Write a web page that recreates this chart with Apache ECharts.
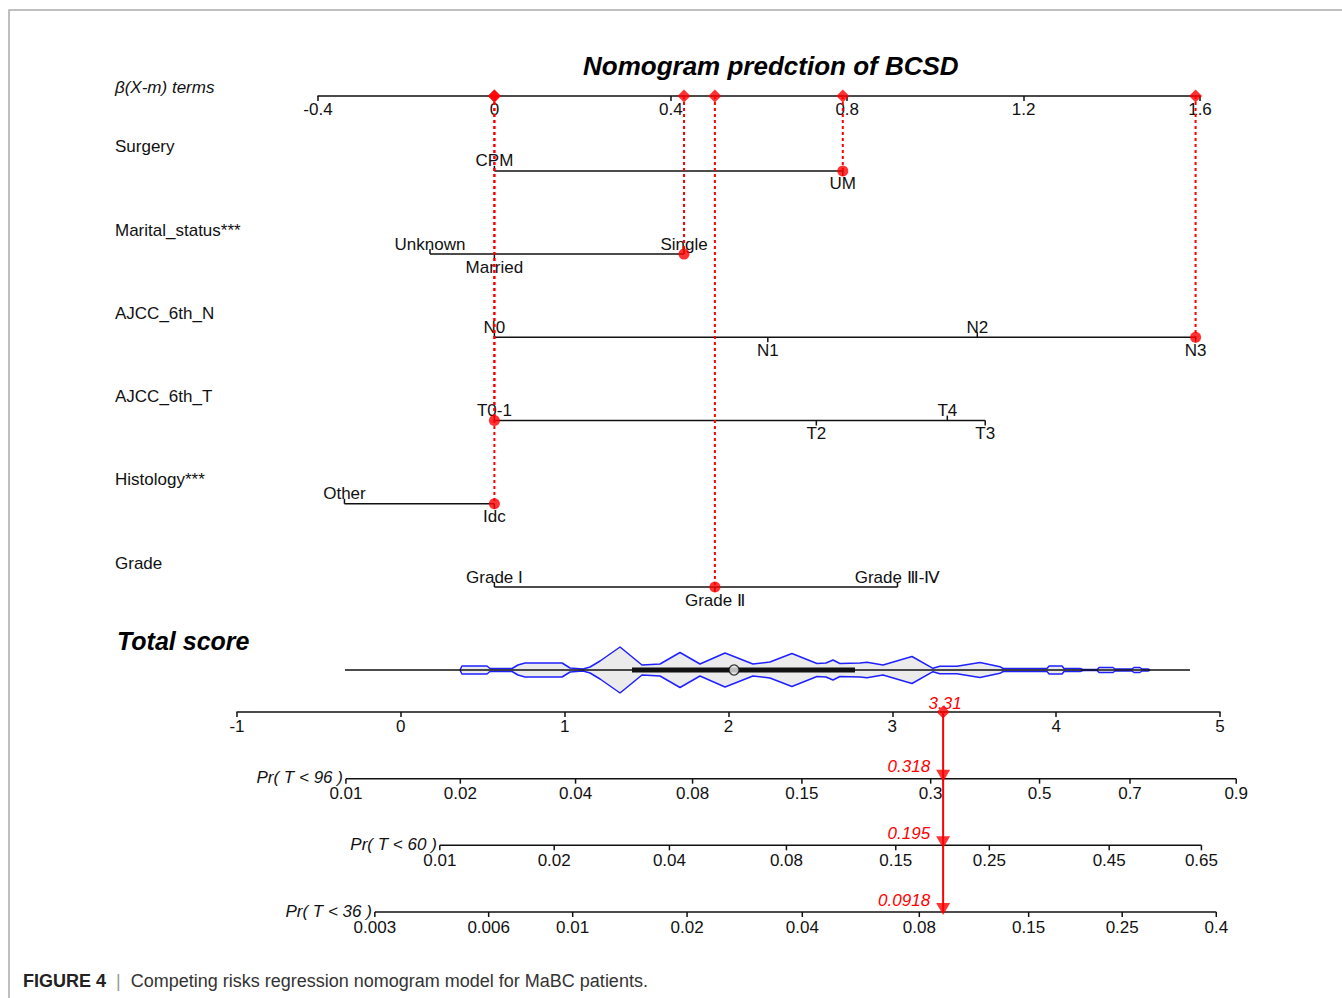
<!DOCTYPE html>
<html><head><meta charset="utf-8">
<script src="https://cdn.jsdelivr.net/npm/echarts@6/dist/echarts.min.js"></script>
<style>html,body{margin:0;padding:0;background:#fff}#c{width:1342px;height:998px}</style>
</head><body><div id="c"></div>
<script>
// ---------------- data ----------------
const chartTitle = 'Nomogram predction of BCSD';
const betaAxisName = 'β(X-m) terms';
const variables = ['Surgery', 'Marital_status***', 'AJCC_6th_N', 'AJCC_6th_T', 'Histology***', 'Grade'];
const levelNames = [
  ['CPM', 'UM'],
  ['Unknown', 'Married', 'Single'],
  ['N0', 'N1', 'N2', 'N3'],
  ['T0-1', 'T2', 'T4', 'T3'],
  ['Other', 'Idc'],
  ['Grade I', 'Grade Ⅱ', 'Grade Ⅲ-Ⅳ']
];
const levelBetas = [
  [0, 0.79],
  [-0.146, 0, 0.43],
  [0, 0.62, 1.095, 1.59],
  [0, 0.73, 1.027, 1.113],
  [-0.34, 0],
  [0, 0.50, 0.914]
];
const selectedLevels = ['UM', 'Single', 'N3', 'T0-1', 'Idc', 'Grade Ⅱ'];
const betaMin = -0.4, betaMax = 1.6, betaStep = 0.4;
const scoreMin = -1, scoreMax = 5, scoreStep = 1;
const totalScore = 3.31;
const probAxisNames = ['Pr( T < 96 )', 'Pr( T < 60 )', 'Pr( T < 36 )'];
const probTicks96 = [0.01, 0.02, 0.04, 0.08, 0.15, 0.3, 0.5, 0.7, 0.9];
const probTicks60 = [0.01, 0.02, 0.04, 0.08, 0.15, 0.25, 0.45, 0.65];
const probTicks36 = [0.003, 0.006, 0.01, 0.02, 0.04, 0.08, 0.15, 0.25, 0.4];
const probOffsets = [-4.265, -4.838, -5.649];   // cloglog(p) = score + offset
const predictedProbs = [0.318, 0.195, 0.0918];
// distribution of total score (violin outline half-width)
const violinScore = [0.361, 0.373, 0.526, 0.544, 0.679, 0.715, 0.758, 0.984, 1.033, 1.112, 1.155, 1.216, 1.338, 1.472, 1.582, 1.704, 1.826, 1.979, 2.149, 2.253, 2.387, 2.540, 2.595, 2.638, 2.680, 2.803, 2.845, 2.943, 3.120, 3.248, 3.290, 3.394, 3.535, 3.657, 3.676, 3.944, 3.957, 4.036, 4.048, 4.146, 4.164, 4.250, 4.262, 4.347, 4.359, 4.463, 4.475, 4.511, 4.524, 4.560, 4.573];
const violinHalfWidth = [0, 4, 4, 1.5, 1.5, 5, 7, 7, 2, 1, 3, 9, 23, 5, 6, 17.5, 6, 17, 6, 8, 16.5, 6.5, 7, 10, 6.5, 7, 7.7, 5, 13.5, 1.7, 3.7, 3.7, 7.5, 3.3, 1.5, 1.5, 4, 4, 1.5, 1.5, 0.5, 0.5, 2.5, 2.5, 1, 1, 2.5, 2.5, 1, 1, 0];
const whiskerRange = [-0.341, 4.817];
const boxRange = [1.411, 2.772];
const medianScore = 2.034;
const caption = ['FIGURE 4', 'Competing risks regression nomogram model for MaBC patients.'];

// ---------------- build ----------------
const F = '"Liberation Sans", Arial, Helvetica, sans-serif';
const INK = '#111';
const RED = '#ff0000';
const probTicks = [probTicks96, probTicks60, probTicks36];
const cloglog = p => Math.log(-Math.log(1 - p));
const probToScore = (p, k) => cloglog(p) - probOffsets[k];
const AXIS_ROW = 0.1;

const levelItems = [];
levelBetas.forEach((betas, i) => {
  const order = betas.map((b, j) => j).sort((a, b) => betas[a] - betas[b]);
  order.forEach((j, k) => levelItems.push({ value: [betas[j], i + 1], label: levelNames[i][j], side: k % 2 === 0 ? -1 : 1 }));
});
const selectedBetas = selectedLevels.map((lv, i) => levelBetas[i][levelNames[i].indexOf(lv)]);

const probTickItems = [];
probTicks.forEach((ticks, k) => ticks.forEach(p => probTickItems.push({ value: [probToScore(p, k), k + 1], label: String(p) })));

const txt = (text, x, y, opt) => ({ type: 'text', x, y, style: Object.assign({ text, fill: INK, font: '17px ' + F, align: 'center', verticalAlign: 'middle' }, opt || {}) });
const seg = (x1, y1, x2, y2, st) => ({ type: 'line', shape: { x1, y1, x2, y2 }, style: Object.assign({ stroke: INK, lineWidth: 1.5 }, st || {}) });

const series = [
  { type: 'custom', name: 'levelLines', xAxisIndex: 0, yAxisIndex: 0,
    data: levelBetas.map((b, i) => [Math.min(...b), i + 1, Math.max(...b)]),
    renderItem: (params, api) => {
      const a = api.coord([api.value(0), api.value(1)]);
      const b = api.coord([api.value(2), api.value(1)]);
      return seg(a[0], a[1], b[0], b[1]);
    } },
  { type: 'custom', name: 'levels', xAxisIndex: 0, yAxisIndex: 0,
    data: levelItems.map(d => d.value),
    renderItem: (params, api) => {
      const it = levelItems[params.dataIndex];
      const p = api.coord(it.value);
      return { type: 'group', children: [
        seg(p[0], p[1], p[0], p[1] + it.side * 5),
        txt(it.label, p[0], p[1] + (it.side < 0 ? -10 : 13))
      ] };
    } },
  { type: 'custom', name: 'variables', xAxisIndex: 0, yAxisIndex: 0,
    data: variables.map((v, i) => [betaMin, i + 1]),
    renderItem: (params, api) => {
      const p = api.coord([api.value(0), api.value(1)]);
      return txt(variables[params.dataIndex], 115, p[1] - 24, { align: 'left' });
    } },
  { type: 'custom', name: 'selection', xAxisIndex: 0, yAxisIndex: 0, z: 5,
    data: selectedBetas.map((b, i) => [b, i + 1]),
    renderItem: (params, api) => {
      const a = api.coord([api.value(0), AXIS_ROW]);
      const b = api.coord([api.value(0), api.value(1)]);
      return seg(a[0], a[1], b[0], b[1], { stroke: RED, lineWidth: 2, lineDash: [3, 3] });
    } },
  { type: 'scatter', name: 'betaPoints', xAxisIndex: 0, yAxisIndex: 0, clip: false, z: 6,
    data: selectedBetas.map(b => [b, AXIS_ROW]), symbol: 'diamond', symbolSize: 13, itemStyle: { color: RED } },
  { type: 'scatter', name: 'levelPoints', xAxisIndex: 0, yAxisIndex: 0, clip: false, z: 6,
    data: selectedBetas.map((b, i) => [b, i + 1]), symbol: 'circle', symbolSize: 11, itemStyle: { color: RED } },
  { type: 'line', name: 'violinUp', xAxisIndex: 1, yAxisIndex: 1, clip: false, symbol: 'none', z: 2,
    data: violinScore.map((s, i) => [s, violinHalfWidth[i]]),
    lineStyle: { color: '#2020ff', width: 1.5 }, areaStyle: { color: '#ebebeb', opacity: 1 } },
  { type: 'line', name: 'violinDown', xAxisIndex: 1, yAxisIndex: 1, clip: false, symbol: 'none', z: 2,
    data: violinScore.map((s, i) => [s, -violinHalfWidth[i]]),
    lineStyle: { color: '#2020ff', width: 1.5 }, areaStyle: { color: '#ebebeb', opacity: 1 } },
  { type: 'line', name: 'whisker', xAxisIndex: 1, yAxisIndex: 1, clip: false, symbol: 'none', z: 3,
    data: whiskerRange.map(s => [s, 0]), lineStyle: { color: INK, width: 1.3 } },
  { type: 'line', name: 'box', xAxisIndex: 1, yAxisIndex: 1, clip: false, symbol: 'none', z: 4,
    data: boxRange.map(s => [s, 0]), lineStyle: { color: INK, width: 5 } },
  { type: 'scatter', name: 'median', xAxisIndex: 1, yAxisIndex: 1, clip: false, z: 5,
    data: [[medianScore, 0]], symbol: 'circle', symbolSize: 10,
    itemStyle: { color: '#e8e8e8', borderColor: INK, borderWidth: 1.3 } },
  { type: 'custom', name: 'probAxisLines', xAxisIndex: 2, yAxisIndex: 2,
    data: probTicks.map((t, k) => [probToScore(t[0], k), k + 1, probToScore(t[t.length - 1], k)]),
    renderItem: (params, api) => {
      const a = api.coord([api.value(0), api.value(1)]);
      const b = api.coord([api.value(2), api.value(1)]);
      return { type: 'group', children: [
        seg(a[0], a[1], b[0], b[1]),
        txt(probAxisNames[params.dataIndex], a[0] - 3, a[1] - 1, { align: 'right', font: 'italic 17px ' + F })
      ] };
    } },
  { type: 'custom', name: 'probTicks', xAxisIndex: 2, yAxisIndex: 2,
    data: probTickItems.map(d => d.value),
    renderItem: (params, api) => {
      const it = probTickItems[params.dataIndex];
      const p = api.coord(it.value);
      return { type: 'group', children: [
        seg(p[0], p[1], p[0], p[1] + 5),
        txt(it.label, p[0], p[1] + 15)
      ] };
    } },
  { type: 'line', name: 'arrow', xAxisIndex: 2, yAxisIndex: 2, clip: false, symbol: 'none', z: 6,
    data: [[totalScore, 0], [totalScore, 3]], lineStyle: { color: RED, width: 2 } },
  { type: 'scatter', name: 'arrowHeads', xAxisIndex: 2, yAxisIndex: 2, clip: false, z: 7,
    data: predictedProbs.map((p, k) => [totalScore, k + 1]), symbol: 'triangle', symbolRotate: 180,
    symbolSize: [14, 12], symbolOffset: [0, -3], itemStyle: { color: RED } },
  { type: 'scatter', name: 'scorePoint', xAxisIndex: 2, yAxisIndex: 2, clip: false, z: 7,
    data: [[totalScore, 0]], symbol: 'diamond', symbolSize: 13, itemStyle: { color: RED } },
  { type: 'custom', name: 'redLabels', xAxisIndex: 2, yAxisIndex: 2, z: 8,
    data: [[totalScore, 0]].concat(predictedProbs.map((p, k) => [totalScore, k + 1])),
    renderItem: (params, api) => {
      const p = api.coord([api.value(0), api.value(1)]);
      const i = params.dataIndex;
      if (i === 0) return txt(totalScore.toFixed(2), p[0] + 2, p[1] - 9, { fill: RED, font: 'italic 17px ' + F });
      return txt(String(predictedProbs[i - 1]), p[0] - 13, p[1] - 12, { fill: RED, font: 'italic 17px ' + F, align: 'right' });
    } }
];

const axisBase = {
  type: 'value', splitLine: { show: false },
  axisLine: { show: true, onZero: false, lineStyle: { color: INK, width: 1.5 } },
  axisTick: { show: true, inside: true, length: 5, lineStyle: { color: INK, width: 1.5 } },
  axisLabel: { inside: true, margin: 5, color: INK, fontSize: 17, fontFamily: F, showMinLabel: true, showMaxLabel: true }
};

const option = {
  backgroundColor: '#fff',
  animation: false,
  title: [
    { text: chartTitle, left: 583, top: 53, padding: 0,
      textStyle: { fontSize: 26, fontWeight: 'bold', fontStyle: 'italic', fontFamily: F, color: '#000' } },
    { text: betaAxisName, left: 115, top: 79, padding: 0,
      textStyle: { fontSize: 17, fontStyle: 'italic', fontWeight: 'normal', fontFamily: F, color: INK } },
    { text: 'Total score', left: 117, top: 628, padding: 0,
      textStyle: { fontSize: 25, fontWeight: 'bold', fontStyle: 'italic', fontFamily: F, color: '#000' } },
    { text: '{b|' + caption[0] + '}{s|  |  }{n|' + caption[1] + '}', left: 23, top: 972, padding: 0,
      textStyle: { fontWeight: 'normal', rich: {
        b: { fontSize: 18, fontWeight: 'bold', color: '#222', fontFamily: F },
        s: { fontSize: 18, fontWeight: 'normal', color: '#999', fontFamily: F },
        n: { fontSize: 18, fontWeight: 'normal', color: '#333', fontFamily: F } } } }
  ],
  graphic: [
    { type: 'polyline', shape: { points: [[1342, 10], [9, 10], [9, 998]] }, style: { stroke: '#ababab', lineWidth: 1.5, fill: null } }
  ],
  grid: [
    { left: 318, top: 96, width: 882, height: 491 },
    { left: 237, top: 640, width: 983, height: 60 },
    { left: 237, top: 712, width: 983, height: 200 }
  ],
  xAxis: [
    Object.assign({}, axisBase, { gridIndex: 0, position: 'top', min: betaMin, max: betaMax, interval: betaStep }),
    { type: 'value', gridIndex: 1, min: scoreMin, max: scoreMax, show: false },
    Object.assign({}, axisBase, { gridIndex: 2, position: 'top', min: scoreMin, max: scoreMax, interval: scoreStep, axisLabel: Object.assign({}, axisBase.axisLabel, { margin: 6 }) })
  ],
  yAxis: [
    { type: 'value', gridIndex: 0, min: AXIS_ROW, max: variables.length, inverse: true, show: false },
    { type: 'value', gridIndex: 1, min: -30, max: 30, show: false },
    { type: 'value', gridIndex: 2, min: 0, max: 3, inverse: true, show: false }
  ],
  series
};

const chart = echarts.init(document.getElementById('c'), null, { renderer: 'svg', width: 1342, height: 998 });
chart.setOption(option);
</script>
</body></html>
